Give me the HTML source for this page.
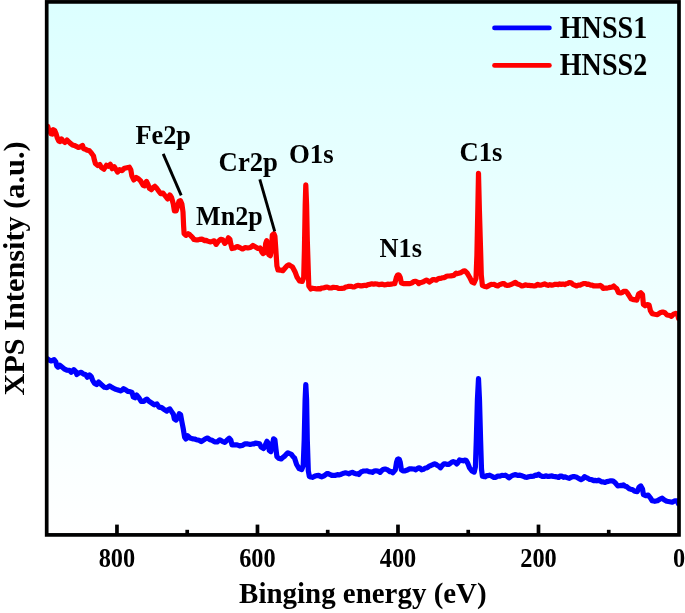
<!DOCTYPE html>
<html><head><meta charset="utf-8"><style>
html,body{margin:0;padding:0;background:#fff;}
svg{display:block;will-change:transform;}
text{font-family:"Liberation Serif",serif;font-weight:bold;fill:#000;}
</style></head><body>
<svg width="685" height="613" viewBox="0 0 685 613">
<defs>
<linearGradient id="bg" x1="0" y1="0" x2="0" y2="1">
<stop offset="0" stop-color="#dcffff"/>
<stop offset="1" stop-color="#ffffff"/>
</linearGradient>
<clipPath id="pc"><rect x="46.7" y="0" width="632.3" height="534.8"/></clipPath>
</defs>
<rect x="0" y="0" width="685" height="613" fill="#fff"/>
<rect x="46.7" y="1.9" width="632.3" height="533" fill="url(#bg)"/>
<g clip-path="url(#pc)" fill="none" stroke-width="5.2" stroke-linejoin="round" stroke-linecap="round">
<polyline stroke="#0000ff" points="47.5,358.8 49.3,360.1 51.4,361.0 54.1,359.6 55.8,361.8 56.7,365.8 58.0,367.1 59.8,365.3 62.0,367.1 64.1,368.8 66.8,370.1 69.4,370.3 71.2,372.3 73.8,369.7 76.0,371.9 76.8,374.5 79.0,372.9 81.2,372.3 83.4,374.1 85.6,374.5 87.4,377.2 89.5,375.0 91.3,376.7 92.6,380.2 94.4,383.3 96.6,384.6 98.7,382.0 100.9,384.2 101.8,385.1 104.4,387.3 107.0,387.7 109.6,385.9 112.3,387.7 114.9,389.0 117.5,389.9 119.0,390.2 120.6,390.8 122.1,390.2 123.6,388.6 126.3,390.3 128.1,391.5 129.8,391.6 132.0,392.5 133.3,396.9 135.0,397.8 136.8,395.1 139.0,397.8 141.2,401.3 143.8,401.3 145.4,399.8 146.9,399.1 149.0,401.3 151.7,403.0 154.3,404.8 156.9,403.9 159.0,407.1 161.7,407.6 164.0,409.3 166.7,411.1 168.2,409.6 169.8,408.9 171.6,411.6 173.4,414.3 174.3,418.8 176.1,420.1 177.9,417.4 179.2,413.8 180.6,414.7 181.9,421.9 183.3,429.1 184.6,437.2 185.9,439.0 187.7,435.8 190.0,438.0 192.7,438.9 194.5,439.0 196.3,439.7 199.0,440.3 201.2,441.6 203.9,439.8 205.7,438.6 207.5,438.0 210.2,439.8 212.0,440.3 214.6,441.9 217.2,441.9 219.7,439.8 222.3,441.3 224.8,442.4 226.9,440.3 229.2,438.3 230.9,440.3 232.0,444.9 234.5,444.9 237.1,444.9 239.6,445.9 242.2,445.4 244.7,443.9 246.2,443.9 247.8,443.9 249.4,444.3 250.9,444.4 252.4,443.9 253.9,443.9 255.4,443.1 257.0,443.4 259.6,443.9 261.1,447.0 263.6,448.5 265.2,445.4 267.0,441.3 268.2,443.4 269.3,450.5 270.8,451.6 272.3,445.4 273.6,438.8 274.9,439.8 275.9,448.5 276.9,456.7 278.5,458.2 281.2,458.9 282.8,457.6 284.3,456.4 286.1,454.4 287.9,452.8 289.7,453.6 291.5,454.3 293.0,456.6 294.5,457.9 296.6,464.5 299.1,468.6 301.7,469.6 303.2,465.5 304.2,440.0 305.1,400.0 305.8,384.5 306.6,400.0 307.3,440.0 308.3,470.7 309.3,476.3 310.9,477.0 312.4,477.3 313.9,476.6 315.5,475.8 317.0,475.7 318.5,475.3 320.1,476.3 321.6,476.8 324.2,475.8 326.7,473.7 328.5,473.7 330.3,474.7 332.1,475.5 333.9,475.3 335.6,475.3 337.4,474.7 338.9,474.9 340.5,474.5 342.0,473.9 343.8,473.2 345.5,472.8 347.2,473.2 349.0,473.9 350.8,472.7 352.5,472.4 354.2,473.3 356.0,473.9 357.4,473.7 358.9,474.5 360.4,472.5 361.9,471.6 363.6,471.0 365.4,471.0 367.1,470.9 368.9,471.6 370.6,471.8 372.4,472.4 374.1,471.1 375.9,470.8 377.9,471.0 380.0,472.4 381.8,470.4 383.5,469.3 385.2,469.0 387.0,469.6 388.4,470.4 389.9,471.6 391.4,471.6 392.8,472.8 395.3,469.9 396.6,462.0 397.5,459.4 398.4,458.8 399.3,459.4 400.2,462.0 401.4,469.9 402.9,470.9 404.5,471.0 406.6,470.3 408.6,469.3 410.0,468.8 411.5,468.8 412.9,469.0 414.4,469.2 415.8,469.8 417.3,468.6 418.8,467.8 420.2,468.3 421.7,469.8 423.4,469.3 425.2,468.0 426.9,467.9 428.7,466.6 430.1,465.8 431.6,465.1 433.1,464.5 434.5,463.9 435.9,464.2 437.4,465.5 438.9,466.2 440.4,467.8 442.1,465.7 443.9,463.9 445.6,463.9 447.4,464.5 448.9,464.3 450.3,463.4 451.8,462.1 453.2,461.6 454.9,462.2 456.7,463.9 458.1,462.4 459.6,459.9 461.4,460.4 463.1,460.8 464.6,460.2 466.1,460.4 467.8,463.4 469.6,468.0 471.9,470.9 474.2,472.1 475.4,466.9 476.3,440.0 477.4,400.0 478.5,378.6 479.5,400.0 480.6,440.0 481.5,469.2 482.4,476.2 483.9,476.6 485.3,476.8 486.8,475.6 488.2,475.6 489.7,475.2 491.8,476.3 493.8,477.3 495.8,477.3 497.8,476.1 499.9,476.2 501.9,475.4 503.6,475.5 505.4,475.2 507.1,476.2 508.9,477.8 510.9,476.3 513.0,475.2 514.8,474.7 516.5,474.9 518.2,475.4 520.0,475.2 521.8,475.8 523.5,476.4 525.2,477.2 527.0,477.3 528.6,476.8 530.1,476.4 531.7,476.4 533.5,476.2 535.2,475.2 537.0,475.3 538.7,474.2 540.5,475.7 542.2,476.4 544.0,476.5 545.7,475.8 547.3,476.3 548.8,476.3 550.4,476.1 552.0,475.9 553.5,476.5 555.1,476.6 556.9,476.9 558.6,477.5 560.0,476.2 561.5,476.1 563.5,477.3 565.2,476.9 567.0,477.6 569.3,478.4 571.0,477.3 572.8,476.7 574.8,476.7 576.9,477.3 579.0,478.7 581.0,479.6 582.8,478.7 584.5,476.7 586.2,477.5 588.0,478.4 589.8,479.5 591.5,479.6 593.2,480.6 595.0,480.4 596.8,480.8 598.5,480.2 600.0,480.9 601.5,481.9 603.2,481.9 605.0,482.5 606.8,481.6 608.5,481.4 610.0,480.9 611.6,480.8 613.1,481.1 615.5,483.1 617.8,486.0 619.2,485.8 620.7,485.4 622.2,485.6 623.6,484.9 625.1,486.2 626.6,486.6 628.0,487.7 629.5,488.9 631.0,489.4 632.4,489.5 634.6,491.2 637.3,491.6 639.0,487.3 640.8,485.9 642.5,489.0 643.4,494.7 645.6,495.6 648.2,495.1 650.4,497.8 652.2,500.8 654.8,501.3 657.4,500.8 660.0,499.1 662.2,498.2 664.4,500.0 667.0,501.3 669.7,501.7 672.3,502.2 674.9,500.8 677.1,500.8 678.5,503.9"/>
<polyline stroke="#ff0000" points="47.7,126.3 48.4,128.8 49.9,131.2 51.0,133.7 52.3,134.1 53.3,129.7 54.8,130.7 56.2,134.1 57.2,137.6 58.7,141.0 60.1,141.5 61.6,139.0 63.1,141.0 65.0,142.5 67.0,140.0 68.5,141.5 70.4,143.4 72.4,144.9 74.3,145.4 76.3,146.4 78.3,147.4 80.2,146.9 82.5,145.4 83.6,148.8 85.6,149.3 87.6,150.3 89.5,150.8 91.5,153.2 93.4,155.7 94.4,160.1 95.4,163.5 97.8,165.5 99.8,164.5 101.3,167.4 103.9,169.2 106.4,165.3 108.3,166.3 110.3,164.3 112.2,168.7 114.2,166.7 116.1,169.7 117.6,172.1 119.6,169.7 122.0,170.7 124.5,168.2 126.9,167.7 129.4,167.2 130.8,169.7 131.8,175.6 133.8,180.0 136.2,177.5 138.7,179.0 140.6,180.9 143.1,185.3 144.5,185.8 146.5,181.4 148.0,184.4 149.4,188.3 151.4,189.7 153.3,187.3 154.8,186.3 156.8,188.3 158.7,191.2 160.7,193.7 163.0,193.1 165.3,196.0 167.6,198.9 169.9,194.9 171.6,197.7 173.3,204.0 174.4,210.9 176.1,210.9 177.9,205.1 179.0,201.1 180.4,200.6 181.9,204.0 183.0,212.0 183.6,225.7 184.1,233.7 185.9,235.4 188.1,233.7 189.6,234.6 191.0,236.0 192.4,237.3 193.9,239.4 196.7,240.0 198.1,239.9 199.6,239.4 201.9,239.2 204.7,240.6 206.1,240.3 207.6,241.1 210.0,241.9 212.0,241.4 214.1,240.8 216.1,244.4 218.2,241.4 220.7,239.3 222.8,239.8 224.8,243.4 226.9,241.4 228.4,237.8 229.9,239.3 230.9,244.4 232.0,248.5 234.5,248.0 237.1,246.5 239.6,247.5 241.1,248.3 242.7,249.0 245.3,247.5 247.8,248.0 250.4,247.5 252.9,245.4 255.5,247.0 258.0,248.5 260.1,248.0 261.6,251.6 263.1,253.6 264.7,252.6 265.7,243.4 266.7,240.8 267.7,245.4 268.8,254.6 270.3,255.7 271.3,250.5 272.3,235.2 273.9,233.7 274.9,236.2 275.9,250.5 276.9,265.9 278.0,270.0 279.7,270.1 281.2,270.2 282.8,270.7 285.3,267.8 287.1,265.8 288.9,264.8 290.7,265.9 292.5,267.0 295.0,271.7 297.1,277.3 299.6,280.9 302.2,281.4 303.7,277.8 304.4,250.0 305.2,205.0 305.8,184.8 306.6,205.0 307.3,240.0 308.3,270.7 308.8,286.0 310.9,289.0 312.4,288.2 313.9,288.5 315.4,288.7 317.0,289.0 318.6,288.5 320.1,289.0 321.6,288.0 323.1,288.0 325.1,287.4 327.2,287.0 329.2,287.9 331.3,288.0 333.4,287.3 335.4,287.5 336.9,287.6 338.5,288.3 340.2,288.5 342.0,288.3 343.8,288.2 345.5,287.1 347.2,286.8 349.0,286.3 350.8,286.4 352.5,286.8 354.2,287.0 356.0,286.0 357.8,285.3 359.5,285.6 361.2,286.0 363.0,285.6 364.8,285.3 366.5,285.6 368.2,284.6 370.0,284.4 371.8,283.8 373.5,284.2 375.2,283.9 377.0,284.0 378.8,284.6 380.5,284.4 382.3,284.2 384.1,284.8 385.9,284.6 387.6,284.2 389.4,284.4 391.1,284.2 393.0,283.7 394.8,283.6 396.4,277.4 397.4,275.3 398.3,274.8 399.2,275.3 400.2,277.4 401.4,283.0 403.9,283.6 405.6,283.7 407.4,283.6 410.0,283.6 412.3,282.8 413.8,281.5 415.3,281.3 417.1,281.9 418.8,283.6 420.2,282.6 421.7,282.4 423.3,281.8 424.8,280.8 426.4,280.1 427.9,280.9 429.3,282.1 431.1,280.9 432.8,279.5 434.6,279.7 436.3,280.1 437.8,279.0 439.2,278.4 440.6,278.5 442.1,277.8 443.6,277.7 445.0,277.2 446.5,276.3 448.0,276.0 449.4,276.0 450.9,275.8 452.4,275.6 453.8,275.4 456.1,273.1 457.6,273.6 459.1,273.1 460.6,272.8 462.0,271.9 463.4,271.1 464.9,270.8 467.2,273.1 469.6,277.2 471.9,281.9 474.0,283.0 476.0,278.4 476.9,255.0 477.8,210.0 478.5,173.4 479.4,210.0 480.6,250.0 481.3,275.0 482.4,285.4 484.7,286.5 486.4,286.8 488.2,286.0 489.7,285.1 491.2,284.4 492.8,284.5 494.3,284.3 496.1,285.5 497.8,286.0 499.4,284.7 500.9,284.3 502.5,283.5 504.1,283.6 505.6,285.0 507.2,285.4 509.2,285.2 511.3,284.3 513.4,283.4 515.4,282.3 516.8,283.8 518.3,284.3 520.0,284.9 521.8,286.0 523.5,285.7 525.3,284.9 527.3,285.3 529.4,285.4 531.0,285.7 532.5,285.7 534.1,286.0 535.9,285.6 537.6,284.3 539.4,285.2 541.1,285.1 542.9,284.5 544.6,283.9 546.4,284.8 548.1,285.4 549.9,284.7 551.6,285.1 553.4,284.9 555.1,284.3 556.6,284.3 558.2,284.6 559.7,283.9 561.4,284.5 563.0,284.1 564.7,284.6 566.2,283.8 567.8,283.4 569.3,282.5 571.0,282.8 572.8,284.3 574.6,285.1 576.4,286.0 578.4,285.2 580.4,285.1 582.2,284.1 583.9,283.5 585.7,283.5 587.3,284.4 588.8,284.1 590.4,285.1 592.1,285.2 593.9,286.0 595.6,285.8 597.4,285.8 598.8,286.0 600.3,285.4 601.8,286.4 603.2,288.4 605.0,288.2 606.7,288.1 608.5,287.8 610.2,287.4 612.0,287.2 613.7,286.0 615.2,287.6 616.6,288.4 618.4,292.4 620.7,293.0 622.2,292.6 623.6,291.3 626.0,291.3 627.5,293.1 628.9,295.4 631.1,298.8 633.8,299.7 635.3,299.8 636.8,300.1 638.6,294.0 640.8,292.7 642.5,294.5 643.4,304.5 645.1,305.8 647.3,304.5 649.1,305.0 650.4,310.7 652.2,313.7 654.8,314.2 657.4,314.6 660.0,312.8 662.7,312.0 664.9,312.8 667.0,315.0 669.7,315.5 671.4,316.3 673.6,314.2 675.8,313.3 677.6,314.2 678.5,318.5"/>
</g>
<g stroke="#000" stroke-width="3.7" fill="none">
<line x1="608.74" y1="529.8" x2="608.74" y2="534" /><line x1="538.49" y1="524.6" x2="538.49" y2="534" /><line x1="468.23" y1="529.8" x2="468.23" y2="534" /><line x1="397.98" y1="524.6" x2="397.98" y2="534" /><line x1="327.72" y1="529.8" x2="327.72" y2="534" /><line x1="257.47" y1="524.6" x2="257.47" y2="534" /><line x1="187.21" y1="529.8" x2="187.21" y2="534" /><line x1="116.96" y1="524.6" x2="116.96" y2="534" />
<rect x="46.7" y="1.9" width="632.3" height="533" stroke-linejoin="miter"/>
</g>
<g stroke="#000" stroke-width="2.9">
<line x1="163.2" y1="153.9" x2="181.2" y2="195.4"/>
<line x1="259.8" y1="179.4" x2="274.7" y2="231.4"/>
</g>
<g stroke-width="4.7" stroke-linecap="round">
<line x1="494.5" y1="27.9" x2="549.4" y2="27.9" stroke="#0000ff"/>
<line x1="494.5" y1="65.4" x2="549.4" y2="65.4" stroke="#ff0000"/>
</g>
<text transform="translate(559.7,37.5) scale(0.89,1)" font-size="31.6">HNSS1</text>
<text transform="translate(559.7,74.6) scale(0.89,1)" font-size="31.6">HNSS2</text>
<text transform="translate(135.4,143.5) scale(0.94,1)" font-size="28">Fe2p</text>
<text transform="translate(218.6,171) scale(0.954,1)" font-size="28">Cr2p</text>
<text transform="translate(196.1,224.5) scale(0.933,1)" font-size="28">Mn2p</text>
<text transform="translate(289,163) scale(0.958,1)" font-size="28">O1s</text>
<text transform="translate(379.6,256.5) scale(0.938,1)" font-size="28">N1s</text>
<text transform="translate(459.5,161) scale(0.952,1)" font-size="28">C1s</text>
<text transform="translate(116.96,566.9) scale(0.92,1)" text-anchor="middle" font-size="26.5">800</text><text transform="translate(257.47,566.9) scale(0.92,1)" text-anchor="middle" font-size="26.5">600</text><text transform="translate(397.98,566.9) scale(0.92,1)" text-anchor="middle" font-size="26.5">400</text><text transform="translate(538.49,566.9) scale(0.92,1)" text-anchor="middle" font-size="26.5">200</text><text transform="translate(679.00,566.9) scale(0.92,1)" text-anchor="middle" font-size="26.5">0</text>
<text transform="translate(239.1,602.8) scale(0.981,1)" font-size="29.5">Binging energy (eV)</text>
<text transform="translate(24.3,395.6) rotate(-90)" font-size="30.3">XPS Intensity (a.u.)</text>
</svg>
</body></html>
